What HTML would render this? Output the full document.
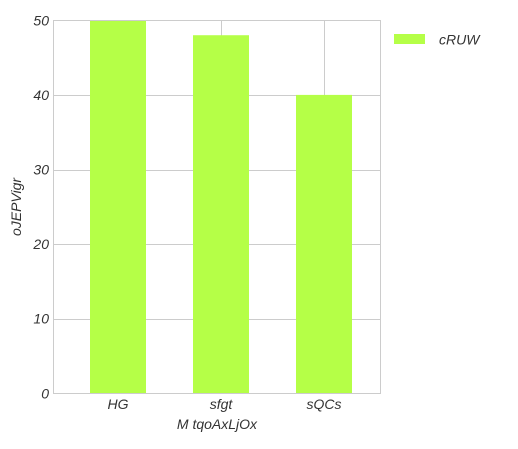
<!DOCTYPE html>
<html><head><meta charset="utf-8"><style>
html,body{margin:0;padding:0;background:#fff;}
svg text{font-family:"Liberation Sans",sans-serif;font-style:italic;fill:#333;}
</style></head><body>
<svg id="chart" width="518" height="444" xmlns="http://www.w3.org/2000/svg">
<rect x="0" y="0" width="518" height="444" fill="#fff"/>
<g id="grid"></g>
<g id="bars"></g>
<rect x="53.5" y="20.5" width="327" height="373" fill="none" stroke="#ccc" stroke-width="1"/>
<g id="ticks"></g>
<text x="21" y="207" font-size="14" text-anchor="middle" transform="rotate(-90 21 207)">oJEPVigr</text>
<text x="217" y="429" font-size="14" text-anchor="middle">M tqoAxLjOx</text>
<g>
<rect x="394" y="34" width="31" height="10" fill="#b5ff47"/>
<text x="439" y="44.5" font-size="14">cRUW</text>
</g>
</svg>
<script>
const categories = ["HG", "sfgt", "sQCs"];
const values = [50, 48, 40];
const yTicks = [0, 10, 20, 30, 40, 50];
const NS = "http://www.w3.org/2000/svg";
const yScale = v => 393.3 - (v / 50) * 373;
const xScale = i => 118 + 103 * i;
const barW = 56;
const grid = document.getElementById("grid");
const bars = document.getElementById("bars");
const ticks = document.getElementById("ticks");
function mk(tag, attrs, parent) {
  const e = document.createElementNS(NS, tag);
  for (const k in attrs) e.setAttribute(k, attrs[k]);
  parent.appendChild(e);
  return e;
}
yTicks.forEach(t => {
  const y = Math.round(yScale(t)) + 0.5;
  const l = mk("line", {x1: 53.5, x2: 380.5, y1: y, y2: y, stroke: "#ccc", "stroke-width": 1}, grid);
  
  
  const tx = mk("text", {x: 49, y: yScale(t) + 5, "font-size": 14, "text-anchor": "end"}, ticks);
  tx.textContent = t;
  
  
});
categories.forEach((c, i) => {
  const x = Math.round(xScale(i)) + 0.5;
  const l = mk("line", {x1: x, x2: x, y1: 20.5, y2: 393.5, stroke: "#ccc", "stroke-width": 1}, grid);
  
  
  const y = yScale(values[i]);
  const r = mk("rect", {x: xScale(i) - barW / 2, y: y, width: barW, height: yScale(0) - y, fill: "#b5ff47"}, bars);
  
  
  const tx = mk("text", {x: xScale(i), y: 409, "font-size": 14, "text-anchor": "middle"}, ticks);
  tx.textContent = c;
  
  
});
</script>
</body></html>
